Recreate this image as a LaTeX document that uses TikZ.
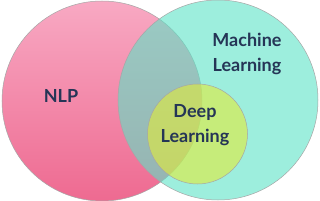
\documentclass[tikz,border=0pt]{standalone}
\usepackage{fontspec}
\setmainfont{Lato}
\definecolor{pinktop}{HTML}{F8A9C3}
\definecolor{pinkbot}{HTML}{EE6A91}
\definecolor{tealfill}{HTML}{5CE3C6}
\definecolor{limefill}{HTML}{E2EB38}
\definecolor{labelnavy}{HTML}{253556}
\tikzset{
  venn/.style={draw=gray!70,line width=0.5bp},
  vennlabel/.style={font=\fontsize{18bp}{25bp}\selectfont\bfseries,text=labelnavy,align=center,inner sep=0pt}
}
\begin{document}
\begin{tikzpicture}[x=1bp,y=1bp]
  \useasboundingbox (0,0) rectangle (320,201);
  % three sets
  \shade[venn,top color=pinktop,bottom color=pinkbot] (102,100) circle (100bp);
  \fill[tealfill,fill opacity=0.6] (218,101) circle (100bp);
  \draw[gray!70,line width=0.5bp] (218,101) circle (100bp);
  \fill[limefill,fill opacity=0.6] (197.5,67) circle (50bp);
  \draw[gray!70,line width=0.5bp] (197.5,67) circle (50bp);
  % labels
  \node[vennlabel] (nlp) at (61,105) {NLP};
  \node[vennlabel] (ml) at (247,147) {Machine\\Learning};
  \node[vennlabel] (dl) at (195,75.5) {Deep\\Learning};
\end{tikzpicture}
\end{document}
